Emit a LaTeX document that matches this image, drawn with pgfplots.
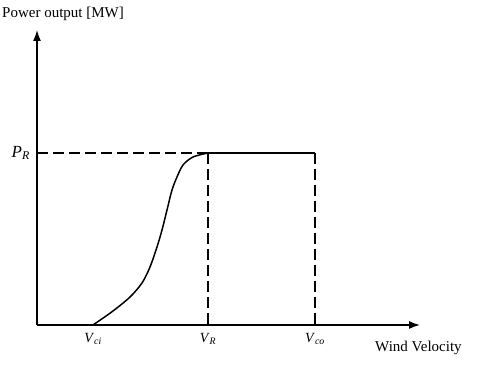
\documentclass[border=0pt]{standalone}
\usepackage{fontspec}
\setmainfont{Liberation Serif}
\usepackage{pgfplots}
\pgfplotsset{compat=1.18}
\usetikzlibrary{arrows.meta}
\begin{document}
\begin{tikzpicture}
\useasboundingbox (-37pt,-52pt) rectangle (440pt,325pt);
\begin{axis}[
  anchor=origin, at={(0pt,0pt)},
  x=1pt, y=1pt,
  xmin=0, xmax=383, ymin=0, ymax=295,
  axis lines=left,
  axis line style={line width=1.5pt, -{Latex[length=11pt,width=8pt]}},
  xtick={56,171,278},
  xticklabels={\textit{V}\textsubscript{\textit{ci}}, \textit{V}\textsubscript{\textit{R}}, \textit{V}\textsubscript{\textit{co}}},
  ytick={172},
  yticklabels={\fontsize{17}{19}\selectfont\textit{P}\textsubscript{\textit{R}}},
  major tick length=0pt,
  xticklabel style={anchor=north, inner sep=0pt, yshift=-8pt, font=\fontsize{14}{16}\selectfont},
  yticklabel style={anchor=east, inner sep=0pt, xshift=-7pt},
  clip=false,
]
\addplot[black, line width=1.5pt, smooth, tension=0.5] coordinates {
 (56,0) (76,14) (93,28) (105,42) (113,58) (120,78) (125,95) (130,115) (135,135) (140,148) (146,160) (156,168) (171,172)
};
\addplot[black, line width=1.5pt] coordinates {(171,172) (278,172)};
\addplot[black, line width=1.5pt, dash pattern=on 11pt off 5pt] coordinates {(0,172) (171,172)};
\addplot[black, line width=1.5pt, dash pattern=on 11pt off 5pt] coordinates {(171,172) (171,0)};
\addplot[black, line width=1.5pt, dash pattern=on 11pt off 5pt] coordinates {(278,172) (278,0)};
\node[anchor=base west, inner sep=0pt, font=\fontsize{15}{17}\selectfont] at (axis cs:-35,307) {Power output [MW]};
\node[anchor=base west, inner sep=0pt, font=\fontsize{15}{17}\selectfont] at (axis cs:338,-27) {Wind Velocity};
\end{axis}
\end{tikzpicture}
\end{document}
